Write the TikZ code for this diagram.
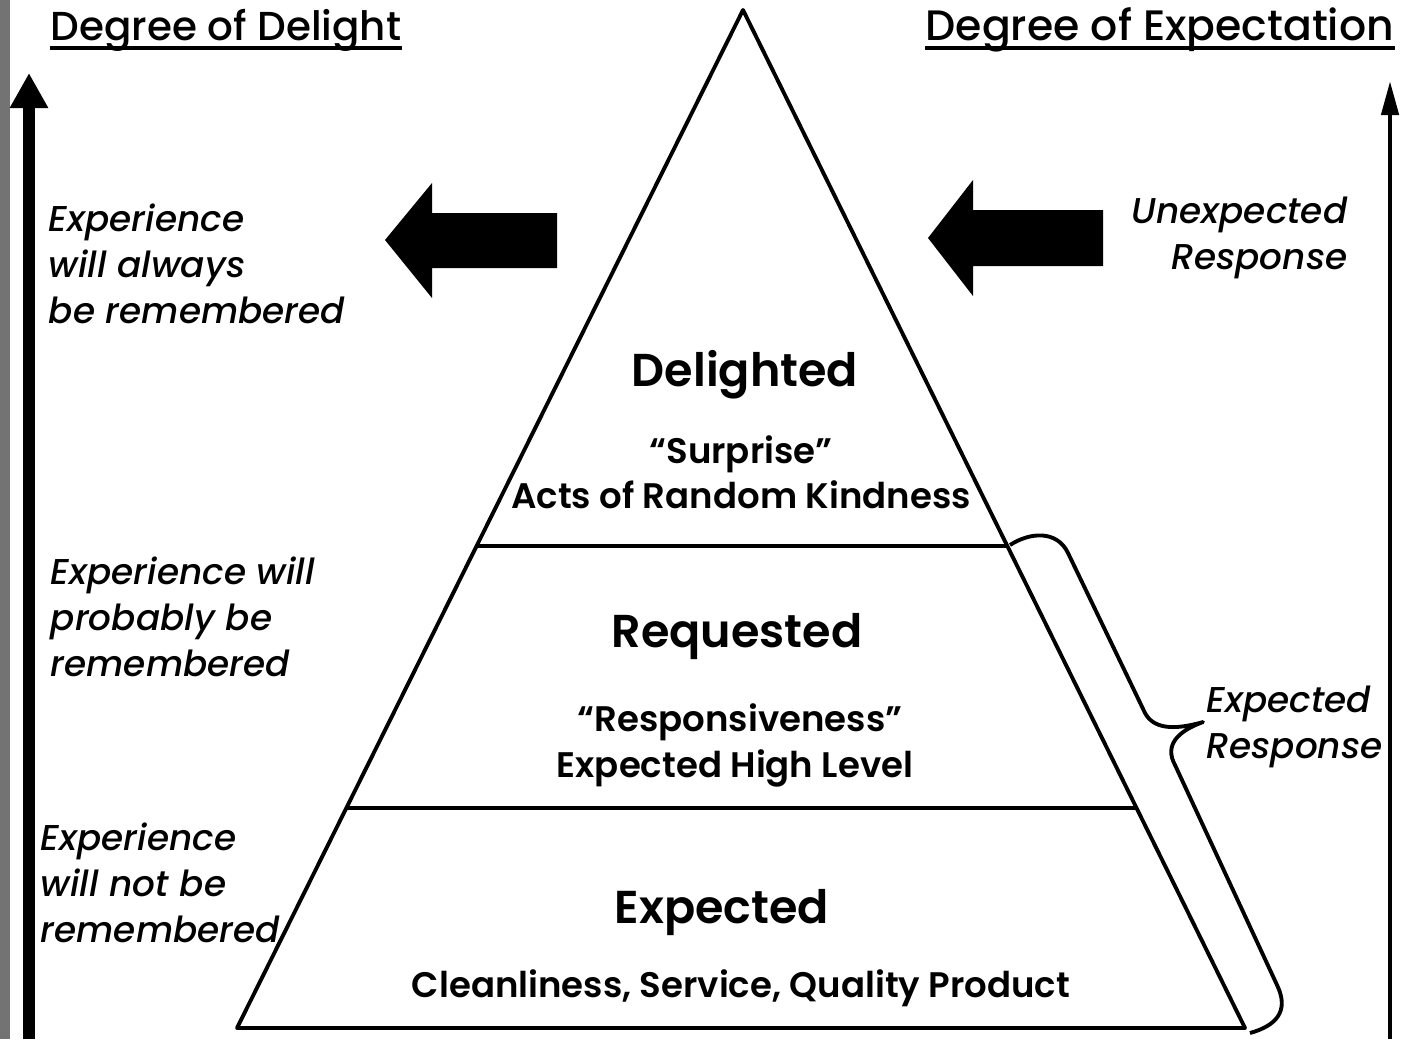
\documentclass[tikz,border=0pt]{standalone}
\usepackage{fontspec}
\setmainfont{Poppins}
\newfontfamily\medfont{Poppins Medium}[ItalicFont={Poppins Medium Italic}]
\newfontfamily\strongfont{Poppins SemiBold}
\usetikzlibrary{arrows.meta,calc,positioning}

\begin{document}
\begin{tikzpicture}
[x=0.01cm,y=-0.01cm,>=Triangle,line join=round]
\tikzstyle{heading}=[inner sep=0pt,anchor=base west,font=\medfont\fontsize{11.5}{14}\selectfont]
\tikzstyle{layer}=[inner sep=0pt,anchor=base,font=\strongfont\fontsize{13.1}{16}\selectfont]
\tikzstyle{detail}=[inner sep=0pt,anchor=base,font=\strongfont\fontsize{10.1}{13}\selectfont]
\tikzstyle{remark}=[inner sep=0pt,align=left,font=\medfont\itshape\fontsize{10.2}{13.1}\selectfont]
\tikzstyle{edge}=[line width=1.1pt]

\useasboundingbox (0,0) rectangle (1404,1039);
\fill[black!55] (0,0) rectangle (10,1039);

\coordinate (apex) at (743,10);
\coordinate (bl) at (237,1028);
\coordinate (br) at (1245,1028);

\draw[edge] (apex) -- (bl) -- (br) -- cycle;
\draw[line width=1.4pt] ($(apex)!0.5265!(bl)$) -- ($(apex)!0.5265!(br)$);
\draw[line width=1.4pt] ($(apex)!0.7839!(bl)$) -- ($(apex)!0.7839!(br)$);

\node[heading] (delight) at (50,40) {Degree of Delight};
\node[heading,font=\medfont\fontsize{12.1}{14}\selectfont] (expect) at (925,40) {Degree of Expectation};
\draw[line width=0.9pt] ($(delight.base west)+(0,8)$) -- ($(delight.base east)+(0,8)$);
\draw[line width=0.9pt] ($(expect.base west)+(0,8)$) -- ($(expect.base east)+(0,8)$);

\coordinate (dlow) at (29,1039);
\coordinate (dtop) at (29,73);
\coordinate (elow) at (1390,1039);
\coordinate (etop) at (1390,81);
\draw[line width=3.3pt,-{Triangle[width=0.36cm,length=0.35cm]}] (dlow) -- (dtop);
\draw[line width=1.3pt,-{Triangle[width=0.17cm,length=0.34cm]}] (elow) -- (etop);

\fill (385,240) -- (432,183) -- (432,213) -- (557,213) -- (557,268)
  -- (432,268) -- (432,298) -- cycle;
\fill (928,238) -- (973,180) -- (973,210) -- (1103,210) -- (1103,266)
  -- (973,266) -- (973,296) -- cycle;

\node[layer] (delighted) at (745,386) {Delighted};
\node[detail] (surprise) at (741,463) {“Surprise”};
\node[detail] (kindness) at (741,508) {Acts of Random Kindness};
\node[layer] (requested) at (737,647) {Requested};
\node[detail] (respons) at (740,731) {“Responsiveness”};
\node[detail] (highlevel) at (735,777) {Expected High Level};
\node[layer] (expected) at (722,923) {Expected};
\node[detail] (basics) at (741,997) {Cleanliness, Service, Quality Product};

\node[remark,anchor=west] (always) at (48,264) {Experience\\will always\\be remembered};
\node[remark,anchor=west] (probably) at (50,617) {Experience will\\probably be\\remembered};
\node[remark,anchor=west] (never) at (40,883) {Experience\\will not be\\remembered};
\node[remark,anchor=east,align=right] (unexp) at (1348,238) {Unexpected\\Response};
\node[remark,anchor=west] (expresp) at (1206,727) {Expected\\Response};

\draw[edge] (1010,545) .. controls (1030,532) and (1057,530) .. (1068,553)
  -- (1145,713) .. controls (1153,728) and (1172,731) .. (1203,722)
  .. controls (1178,731) and (1164,745) .. (1175,765)
  -- (1277,985) .. controls (1290,1012) and (1275,1026) .. (1250,1033);
\end{tikzpicture}
\end{document}
